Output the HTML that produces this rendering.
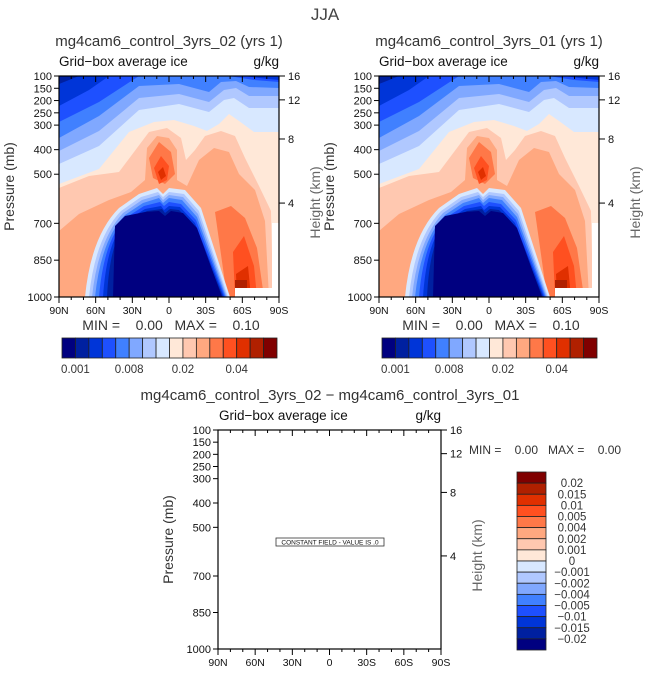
<!DOCTYPE html>
<html><head><meta charset="utf-8"><style>
html,body{margin:0;padding:0;background:#fff}
svg{display:block;font-family:"Liberation Sans",sans-serif}
.pre{white-space:pre}
</style></head><body>
<svg id="root" width="649" height="676" viewBox="0 0 649 676">
<defs>
<clipPath id="pclip"><rect x="0" y="0" width="220" height="221"/></clipPath>
<g id="field" clip-path="url(#pclip)">
  <rect x="0" y="0" width="220" height="221" fill="#ffe8d8"/>
  <path fill="#d8e8ff" d="M0,0 H220 V56 L195,56 L180,45 L170,38 L160,48 L148,55 L135,50 L115,44 L95,46 L70,56 L40,93 L0,108 Z"/>
  <path fill="#b0c8ff" d="M0,0 H220 V32 L190,32 L175,22 L165,24 L150,36 L120,28 L80,34 L40,70 L0,88 Z"/>
  <path fill="#80a8ff" d="M0,0 H220 V20 L190,20 L177,12 L165,14 L150,26 L120,18 L80,22 L40,55 L0,75 Z"/>
  <path fill="#4080ff" d="M0,0 H220 V12 L190,11 L177,5 L162,6 L150,16 L120,8 L80,10 L40,40 L0,62 Z"/>
  <path fill="#1e50ff" d="M0,0 H220 V6 L195,4 L170,0 L80,0 L40,26 L0,46 Z"/>
  <path fill="#0035d8" d="M0,0 H50 L30,14 L0,30 Z M185,0 H220 V4 L200,2 Z"/>
  <path fill="#0020a0" d="M0,0 H20 L0,8 Z"/>
  <path fill="#ffc8b0" d="M0,112 L30,100 L60,96 L78,72 L90,56 L108,52 L122,62 L127,84 L136,74 L146,60 L162,55 L176,60 L186,82 L200,110 L212,135 L214,221 L0,221 Z"/>
  <path fill="#ffa880" d="M0,155 L20,138 L50,124 L72,116 L86,104 L88,72 L98,60 L110,62 L118,74 L118,104 L128,110 L140,84 L155,72 L170,76 L180,98 L196,114 L206,145 L210,221 L0,221 Z"/>
  <path fill="#ff7848" d="M90,82 L100,66 L112,76 L116,98 L106,108 L94,102 Z M156,136 L172,130 L186,142 L198,172 L205,221 L168,221 Z"/>
  <path fill="#ff5020" d="M95,92 L102,80 L110,90 L108,104 L100,108 Z M174,176 L185,160 L195,190 L198,221 L176,221 Z"/>
  <path fill="#e03000" d="M99,96 L104,91 L107,100 L102,104 Z M177,198 L189,190 L192,221 L178,221 Z"/>
  <rect x="176" y="204" width="12" height="8" fill="#b02000"/>
  <path fill="#d8e8ff" d="M26,221 Q32,160 60,132 L80,118 L98,112 L104,118 L110,112 L126,114 L142,132 L171,221 Z"/>
  <path fill="#b0c8ff" d="M30,221 Q36,162 62,135 L82,121 L99,116 L104,121 L110,116 L125,118 L140,135 L169,221 Z"/>
  <path fill="#80a8ff" d="M33,221 Q39,164 64,137 L83,124 L100,119 L104,124 L110,119 L124,121 L139,138 L168,221 Z"/>
  <path fill="#4080ff" d="M36,221 Q42,164 66,139 L84,127 L100,122 L104,127 L110,122 L123,124 L138,141 L167,221 Z"/>
  <path fill="#1e50ff" d="M40,221 Q45,162 68,141 L85,130 L101,126 L105,130 L110,126 L122,128 L137,144 L166,221 Z"/>
  <path fill="#0035d8" d="M44,221 Q48,160 70,143 L86,133 L102,130 L105,134 L110,130 L121,131 L136,147 L165,221 Z"/>
  <path fill="#0020a0" d="M48,221 Q51,158 72,144 L88,135 L103,133 L106,137 L111,133 L120,134 L135,149 L164,221 Z"/>
  <path fill="#000080" d="M54,221 L56,150 L66,140 L86,136 L100,135 L106,140 L112,135 L124,137 L138,152 L163,221 Z"/>
  <path fill="#fff" d="M213,147 H221 V222 H176 V212 H213 Z"/>
</g>
</defs>

<text x="325" y="20" font-size="17" fill="#444" text-anchor="middle">JJA</text>

<g id="p1" transform="translate(59,76)">
  <use href="#field"/>
</g>
<g id="p2" transform="translate(379,76)">
  <use href="#field"/>
</g>
<g id="p3" transform="translate(218,430)">
  <rect x="58" y="108" width="108" height="8" fill="#fff" stroke="#333" stroke-width="0.8"/>
  <text x="112" y="114.5" font-size="6.5" text-anchor="middle" fill="#111">CONSTANT FIELD - VALUE IS .0</text>
</g>
</svg>
<script>
const presTicks=[100,150,200,250,300,400,500,700,850,1000];
const htTicks=[16,12,8,4];
const htFrac=[0,0.108,0.285,0.575];
const latLabels=["90N","60N","30N","0","30S","60S","90S"];
const cbColors=["#000080","#0020a0","#0035d8","#1e50ff","#4080ff","#80a8ff","#b0c8ff","#d8e8ff","#ffe8d8","#ffc8b0","#ffa880","#ff7848","#ff5020","#e03000","#b02000","#800000"];
const topCbLabels=["0.001","0.008","0.02","0.04"];
const topCbLabelIdx=[1,5,9,13];
const diffLabels=["0.02","0.015","0.01","0.005","0.004","0.002","0.001","0","\u22120.001","\u22120.002","\u22120.004","\u22120.005","\u22120.01","\u22120.015","\u22120.02"];
const NS="http://www.w3.org/2000/svg";
const root=document.getElementById('root');
function mk(tag,attrs,parent,txt){const e=document.createElementNS(NS,tag);for(const k in attrs)e.setAttribute(k,attrs[k]);if(txt!==undefined)e.textContent=txt;(parent||root).appendChild(e);return e;}
function panel(x0,y0,w,h,title,title2,minmax){
  const py=p=>y0+(p-100)/900*h;
  const px=i=>x0+i*w/6;
  let f=mk('rect',{x:x0,y:y0,width:w,height:h,fill:'none',stroke:'#000','stroke-width':1.2});
  
  
  presTicks.forEach(p=>{
    const y=py(p);
    let l=mk('line',{x1:x0-5,y1:y,x2:x0,y2:y,stroke:'#000'});
    
    
    let t=mk('text',{x:x0-7,y:y+4,'font-size':11,'text-anchor':'end',fill:'#111'},null,String(p));
    
    
  });
  htTicks.forEach((v,i)=>{
    const y=y0+htFrac[i]*h;
    let l=mk('line',{x1:x0+w,y1:y,x2:x0+w+6,y2:y,stroke:'#000'});
    
    
    let t=mk('text',{x:x0+w+9,y:y+4,'font-size':11,fill:'#111'},null,String(v));
    
    
  });
  for(let i=0;i<=18;i++){
    const x=x0+i*w/18, major=i%3==0, len=major?6:3;
    mk('line',{x1:x,y1:y0+h,x2:x,y2:y0+h+len,stroke:'#000'});
    mk('line',{x1:x,y1:y0,x2:x,y2:y0+len,stroke:'#000'});
  }
  latLabels.forEach((s,i)=>{
    let t=mk('text',{x:px(i),y:y0+h+17,'font-size':10.5,'text-anchor':'middle',fill:'#111'},null,s);
    
    
  });
  let yl=mk('text',{transform:`translate(${x0-45},${y0+h/2}) rotate(-90)`,'font-size':14,'text-anchor':'middle',fill:'#333'},null,'Pressure (mb)');
  
  
  let hl=mk('text',{transform:`translate(${x0+w+41},${y0+h/2+16}) rotate(-90)`,'font-size':14,'text-anchor':'middle',fill:'#666'},null,'Height (km)');
  
  
  let lt=mk('text',{x:x0+(title2?1:0),y:y0-10,'font-size':13.5,fill:'#111'},null,'Grid\u2212box average ice');
  
  
  let rt=mk('text',{x:x0+w,y:y0-10,'font-size':13.5,'text-anchor':'end',fill:'#111'},null,'g/kg');
  
  
  if(title){
    let tt=mk('text',{x:x0+w/2,y:y0-30,'font-size':15,'text-anchor':'middle',fill:'#333'},null,title);
    
    
  }
  if(minmax){
    let mm=mk('text',{x:x0+w/2+2,y:y0+h+33,'font-size':14,'text-anchor':'middle',fill:'#333','class':'pre'},null,'MIN =    0.00   MAX =    0.10');
    
    
  }
}
function hbar(x0,y0,w,h){
  const bw=w/cbColors.length;
  cbColors.forEach((c,i)=>{
    let r=mk('rect',{x:x0+i*bw,y:y0,width:bw,height:h,fill:c,stroke:'#222','stroke-width':0.8});
    
    
  });
  topCbLabels.forEach((s,k)=>{
    let t=mk('text',{x:x0+topCbLabelIdx[k]*bw,y:y0+h+15,'font-size':11.5,'text-anchor':'middle',fill:'#333'},null,s);
    
    
  });
}
panel(59,76,220,221,'mg4cam6_control_3yrs_02 (yrs 1)',false,true);
panel(379,76,220,221,'mg4cam6_control_3yrs_01 (yrs 1)',false,true);
panel(218,430,223,219,null,true,false);
hbar(62,338,215,20);
hbar(382,338,215,20);
let bt=mk('text',{x:330,y:400,'font-size':15,'text-anchor':'middle',fill:'#333'},null,'mg4cam6_control_3yrs_02 \u2212 mg4cam6_control_3yrs_01');


let bm=mk('text',{x:469,y:454,'font-size':12,fill:'#333','class':'pre'},null,'MIN =    0.00   MAX =    0.00');


const vb=(650-472)/cbColors.length;
cbColors.slice().reverse().forEach((c,i)=>{
  let r=mk('rect',{x:517,y:472+i*vb,width:29,height:vb,fill:c,stroke:'#222','stroke-width':0.8});
  
  
});
diffLabels.forEach((s,i)=>{
  let t=mk('text',{x:572,y:472+(i+1)*vb+4,'font-size':11.5,'text-anchor':'middle',fill:'#333'},null,s);
  
  
});
</script>
</body></html>
